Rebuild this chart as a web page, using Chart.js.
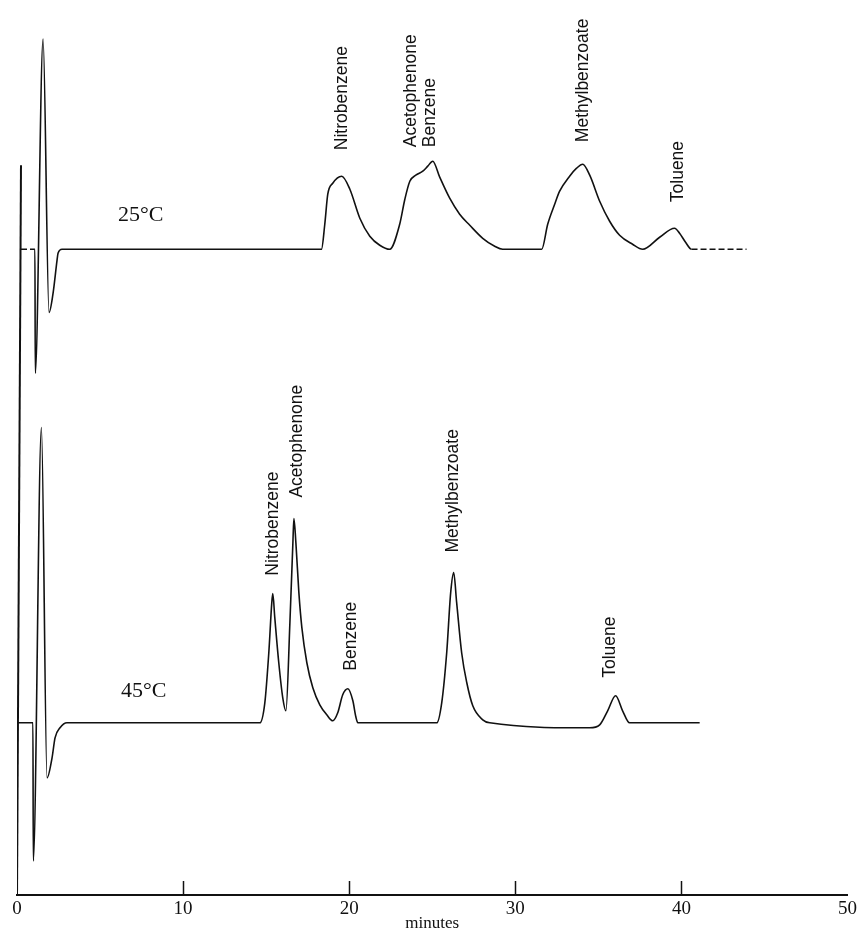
<!DOCTYPE html>
<html>
<head>
<meta charset="utf-8">
<title>Chromatogram 25°C / 45°C</title>
<script src="https://cdn.jsdelivr.net/npm/chart.js@4.4.1/dist/chart.umd.min.js"></script>
<style>
  body { margin: 0; background: #fff; }
  #box { width: 862px; height: 930px; }
</style>
</head>
<body>
<div id="box"><canvas id="myChart"></canvas></div>
<script>
// retention time (minutes) and detector signal above each trace's own baseline
const t25 = [0.24, 1.08, 1.10, 1.57, 1.93, 2.17, 2.41, 2.47, 2.71,
  18.33, 18.53, 18.71, 19.01, 19.55, 20.04, 20.64, 21.24, 21.84, 22.44,
  23.04, 23.35, 23.65, 24.01, 24.43, 24.73, 25.03, 25.45, 26.05, 26.65, 27.26, 28.04, 28.76, 29.24,
  31.59, 31.95, 32.37, 32.67, 33.27, 33.69, 34.06, 34.48, 35.08, 35.68, 36.28, 37.06, 37.67,
  38.69, 39.59, 39.89, 40.25, 40.61, 43.92];
const s25 = [0, 0, -124, 210, -63, -44, -11, -4, 0,
  0, 25, 55, 66, 73, 60, 31, 13, 4, 0,
  25, 50, 68, 74, 78, 83, 88, 72, 51, 35, 24, 11, 3, 0,
  0, 25, 45, 58, 73, 81, 85, 74, 48, 28, 14, 5, 0,
  12, 21, 16, 7, 0, 0];

const t45 = [0.06, 0.96, 0.98, 1.47, 1.81, 2.11, 2.29, 2.59, 3.01,
  14.62, 14.92, 15.16, 15.34, 15.40, 15.52, 15.76, 16.00, 16.19,
  16.43, 16.61, 16.67, 16.79, 16.97, 17.15, 17.45, 17.81, 18.23, 18.65, 19.01,
  19.31, 19.61, 19.92, 20.22, 20.40, 20.52,
  25.27, 25.57, 25.87, 26.11, 26.29, 26.47, 26.77, 27.08, 27.44, 28.04, 28.46,
  34.48, 35.08, 35.56, 36.04, 36.46, 36.88, 41.10];
const s45 = [0, 0, -138, 295, -55, -35, -15, -5, 0,
  0, 20, 70, 120, 129, 105, 60, 25, 12,
  100, 180, 204, 180, 130, 95, 60, 35, 18, 8, 2,
  10, 28, 34, 22, 6, 0,
  0, 20, 70, 130, 150, 120, 70, 40, 17, 3, 0,
  -5, -2, 12, 27, 12, 0, 0];

// pen mark at injection (left edge)
const tMark = [0, 0.24];
const yMark = [0, 729];

// vertical offsets of the two traces on the paper
const offset25 = 645;
const offset45 = 172;

const xTicks = [0, 10, 20, 30, 40, 50];

// peak names, where they are written (minutes, height above baseline)
const names25 = ['Nitrobenzene', 'Acetophenone', 'Benzene', 'Methylbenzoate', 'Toluene'];
const nameT25 = [19.55, 23.71, 24.85, 34.06, 39.83];
const nameY25 = [99, 102, 102, 107, 47];

const names45 = ['Nitrobenzene', 'Acetophenone', 'Benzene', 'Methylbenzoate', 'Toluene'];
const nameT45 = [15.40, 16.85, 20.10, 26.23, 35.74];
const nameY45 = [147, 225, 52, 170, 45];

const tempLabels = ['25°C', '45°C'];
const tempT = [6.08, 6.26];
const tempY = [offset25 + 34, offset45 + 32];

function toPoints(ts, vals, off) {
  return ts.map((t, i) => ({ x: t, y: vals[i] + off }));
}

// rotated peak names, temperature labels and the small upward axis ticks
const extras = {
  id: 'extras',
  afterDatasetsDraw(chart) {
    const ctx = chart.ctx;
    const x = chart.scales.x;
    const y = chart.scales.y;

    ctx.save();
    ctx.fillStyle = '#111';
    ctx.font = '17.5px "Liberation Sans", Arial, sans-serif';
    ctx.textAlign = 'left';
    ctx.textBaseline = 'middle';
    function rotText(txt, t, v) {
      ctx.save();
      ctx.translate(x.getPixelForValue(t), y.getPixelForValue(v));
      ctx.rotate(-Math.PI / 2);
      ctx.fillText(txt, 0, 0);
      ctx.restore();
    }
    names25.forEach((n, i) => rotText(n, nameT25[i], nameY25[i] + offset25));
    names45.forEach((n, i) => rotText(n, nameT45[i], nameY45[i] + offset45));

    ctx.font = '22px "Liberation Serif", "Times New Roman", serif';
    tempLabels.forEach((txt, i) => {
      ctx.fillText(txt, x.getPixelForValue(tempT[i]), y.getPixelForValue(tempY[i]));
    });

    ctx.strokeStyle = '#111';
    ctx.lineWidth = 1.5;
    const bottom = chart.chartArea.bottom;
    xTicks.slice(1, -1).forEach((v) => {
      const px = Math.round(x.getPixelForValue(v)) + 0.5;
      ctx.beginPath();
      ctx.moveTo(px, bottom);
      ctx.lineTo(px, bottom - 14);
      ctx.stroke();
    });
    ctx.restore();
  }
};

const ctx = document.getElementById('myChart').getContext('2d');

new Chart(ctx, {
  type: 'line',
  data: {
    datasets: [
      {
        label: 'mark',
        data: toPoints(tMark, yMark, 0),
        borderColor: '#111',
        borderWidth: 2
      },
      {
        label: '25°C',
        data: toPoints(t25, s25, offset25),
        borderColor: '#111',
        borderWidth: 1.6,
        cubicInterpolationMode: 'monotone',
        segment: {
          borderDash: (c) => (c.p0DataIndex === 0 || c.p1DataIndex === t25.length - 1) ? [6, 3] : undefined
        }
      },
      {
        label: '45°C',
        data: toPoints(t45, s45, offset45),
        borderColor: '#111',
        borderWidth: 1.6,
        cubicInterpolationMode: 'monotone'
      }
    ]
  },
  options: {
    responsive: true,
    maintainAspectRatio: false,
    animation: false,
    layout: { padding: { left: 17, right: 14, top: 0, bottom: 0 } },
    elements: { point: { radius: 0 } },
    plugins: {
      legend: { display: false },
      tooltip: { enabled: false }
    },
    scales: {
      x: {
        type: 'linear',
        min: 0,
        max: 50,
        afterBuildTicks: (s) => { s.ticks = xTicks.map((v) => ({ value: v })); },
        grid: { display: false, drawTicks: false },
        border: { display: true, color: '#111', width: 2 },
        ticks: {
          color: '#111',
          padding: 5,
          maxRotation: 0,
          font: { family: '"Liberation Serif", "Times New Roman", serif', size: 19, lineHeight: 1 }
        },
        title: {
          display: true,
          text: 'minutes',
          color: '#111',
          padding: { top: -9, bottom: -2 },
          font: { family: '"Liberation Serif", "Times New Roman", serif', size: 17, lineHeight: 1 }
        }
      },
      y: {
        display: false,
        min: 0,
        max: 894
      }
    }
  },
  plugins: [extras]
});
</script>
</body>
</html>
